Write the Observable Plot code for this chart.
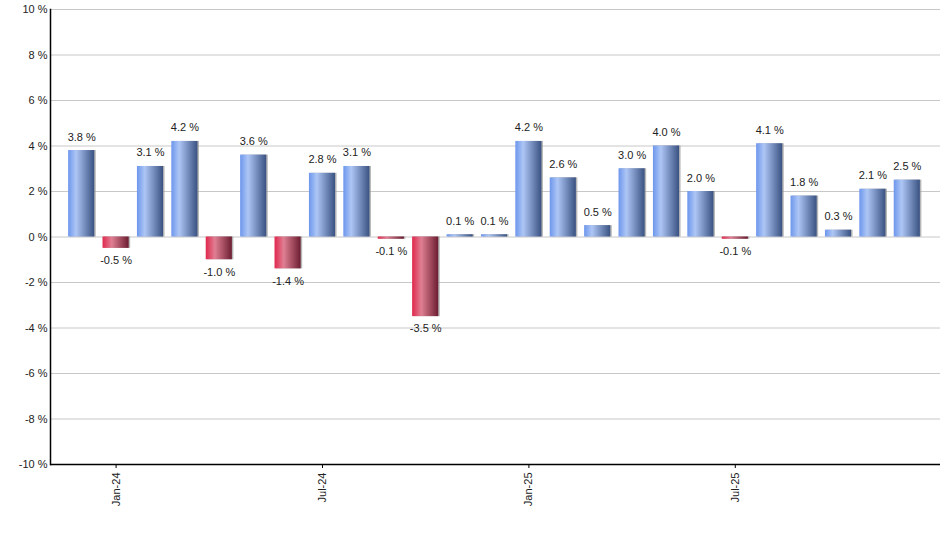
<!DOCTYPE html>
<html>
<head>
<meta charset="utf-8">
<script src="https://cdn.jsdelivr.net/npm/d3@7"></script>
<script src="https://cdn.jsdelivr.net/npm/@observablehq/plot@0.6"></script>
<style>
  body { margin: 0; background: #fff; }
  #chart svg { display: block; }
</style>
</head>
<body>
<div id="chart"></div>
<script>
const months = ["2023-12","2024-01","2024-02","2024-03","2024-04","2024-05","2024-06","2024-07","2024-08","2024-09","2024-10","2024-11","2024-12","2025-01","2025-02","2025-03","2025-04","2025-05","2025-06","2025-07","2025-08","2025-09","2025-10","2025-11","2025-12"];
const values = [3.8,-0.5,3.1,4.2,-1.0,3.6,-1.4,2.8,3.1,-0.1,-3.5,0.1,0.1,4.2,2.6,0.5,3.0,4.0,2.0,-0.1,4.1,1.8,0.3,2.1,2.5];
const tickMonths = ["2024-01","2024-07","2025-01","2025-07"];
const yTicks = [-10,-8,-6,-4,-2,0,2,4,6,8,10];
const monthNames = ["Jan","Feb","Mar","Apr","May","Jun","Jul","Aug","Sep","Oct","Nov","Dec"];

const data = months.map((m, i) => ({month: m, value: values[i]}));
const pos = data.filter(d => d.value >= 0);
const neg = data.filter(d => d.value < 0);
const fmtMonth = m => monthNames[+m.slice(5) - 1] + "-" + m.slice(2, 4);

const gradients = () => {
  const ns = "http://www.w3.org/2000/svg";
  const defs = document.createElementNS(ns, "defs");
  defs.innerHTML = `
    <linearGradient id="gBlue" x1="0" y1="0" x2="1" y2="0">
      <stop offset="0" stop-color="#6d96ec"/>
      <stop offset="0.3" stop-color="#adc6f5"/>
      <stop offset="1" stop-color="#3a5282"/>
    </linearGradient>
    <linearGradient id="gRed" x1="0" y1="0" x2="1" y2="0">
      <stop offset="0" stop-color="#e0274d"/>
      <stop offset="0.35" stop-color="#e07f93"/>
      <stop offset="1" stop-color="#6c1d31"/>
    </linearGradient>`;
  return defs;
};

const chart = Plot.plot({
  width: 940,
  height: 550,
  marginLeft: 50,
  marginRight: 0,
  marginTop: 9,
  marginBottom: 86,
  style: {fontFamily: "'Liberation Sans', Arial, sans-serif", fontSize: "11px", color: "#222", background: "#fff"},
  x: {type: "band", domain: months, range: [64, 924], paddingInner: 0.24, paddingOuter: 0.12, round: false, label: null},
  y: {domain: [-10, 10], label: null},
  marks: [
    gradients,
    Plot.ruleY(yTicks, {stroke: "#c8c8c8", strokeWidth: 1}),
    Plot.barY(data, {x: "month", y: "value", fill: "#999", fillOpacity: 0.7, dx: 1.5}),
    Plot.barY(pos, {x: "month", y: "value", fill: "url(#gBlue)"}),
    Plot.barY(neg, {x: "month", y: "value", fill: "url(#gRed)"}),
    Plot.text(pos, {x: "month", y: "value", text: d => d.value.toFixed(1) + " %", lineAnchor: "bottom", dy: -10, fill: "#222", fontSize: 11}),
    Plot.text(neg, {x: "month", y: "value", text: d => d.value.toFixed(1) + " %", lineAnchor: "top", dy: 8, fill: "#222", fontSize: 11}),
    Plot.axisY({ticks: yTicks, tickFormat: d => d + " %", tickSize: 0, tickPadding: 3, fontSize: 11, label: null}),
    Plot.axisX({ticks: tickMonths, tickFormat: fmtMonth, tickRotate: -90, tickSize: 4, tickPadding: 4, fontSize: 11, stroke: "#000", label: null}),
    Plot.ruleY([-10], {stroke: "#000", strokeWidth: 1.5}),
    Plot.frame({anchor: "left", stroke: "#000", strokeWidth: 1.5})
  ]
});
document.getElementById("chart").appendChild(chart);
</script>
</body>
</html>
